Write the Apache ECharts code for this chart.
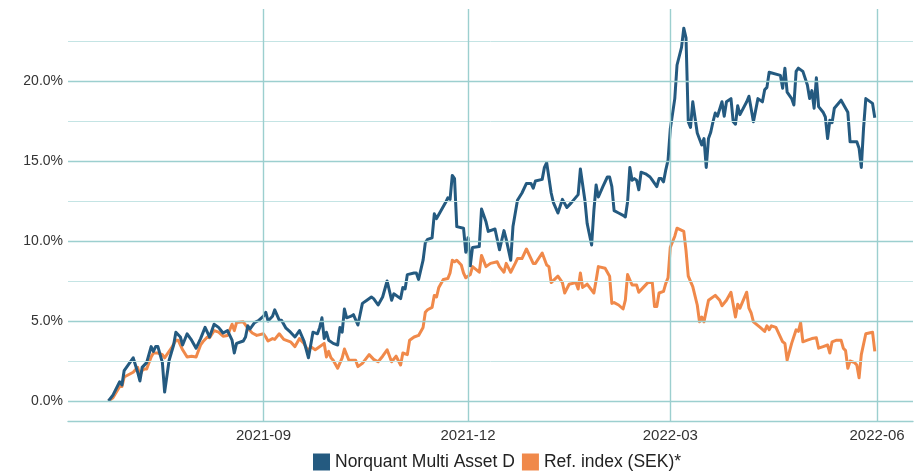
<!DOCTYPE html>
<html>
<head>
<meta charset="utf-8">
<script src="https://cdn.jsdelivr.net/npm/echarts@6/dist/echarts.min.js"></script>
<style>
  html, body { margin: 0; padding: 0; background: #fff; }
  #chart { width: 917px; height: 473px; }
</style>
</head>
<body>
<div id="chart"></div>
<script>
// cumulative return, % since start
var fundDates = ['2021-06-24','2021-06-26','2021-06-29','2021-06-30','2021-07-01','2021-07-05','2021-07-07','2021-07-08','2021-07-09','2021-07-11',
  '2021-07-13','2021-07-14','2021-07-15','2021-07-16','2021-07-18','2021-07-19','2021-07-21','2021-07-23','2021-07-24','2021-07-26',
  '2021-07-27','2021-07-29','2021-07-31','2021-08-02','2021-08-04','2021-08-06','2021-08-08','2021-08-10','2021-08-12','2021-08-14',
  '2021-08-16','2021-08-18','2021-08-19','2021-08-20','2021-08-23','2021-08-24','2021-08-25','2021-08-26','2021-08-28','2021-08-30',
  '2021-09-01','2021-09-02','2021-09-03','2021-09-05','2021-09-06','2021-09-08','2021-09-09','2021-09-11','2021-09-13','2021-09-15',
  '2021-09-17','2021-09-19','2021-09-21','2021-09-22','2021-09-23','2021-09-25','2021-09-26','2021-09-27','2021-09-28','2021-09-29',
  '2021-09-30','2021-10-02','2021-10-04','2021-10-05','2021-10-06','2021-10-07','2021-10-08','2021-10-10','2021-10-11','2021-10-13',
  '2021-10-15','2021-10-17','2021-10-19','2021-10-20','2021-10-22','2021-10-24','2021-10-26','2021-10-28','2021-10-29','2021-11-01',
  '2021-11-02','2021-11-03','2021-11-04','2021-11-07','2021-11-08','2021-11-09','2021-11-11','2021-11-12','2021-11-13','2021-11-15',
  '2021-11-16','2021-11-17','2021-11-19','2021-11-21','2021-11-22','2021-11-23','2021-11-24','2021-11-25','2021-11-26','2021-11-29',
  '2021-11-30','2021-12-01','2021-12-02','2021-12-03','2021-12-06','2021-12-07','2021-12-09','2021-12-10','2021-12-13','2021-12-15',
  '2021-12-17','2021-12-18','2021-12-20','2021-12-21','2021-12-23','2021-12-25','2021-12-27','2021-12-29','2021-12-30','2021-12-31',
  '2022-01-03','2022-01-04','2022-01-05','2022-01-07','2022-01-08','2022-01-10','2022-01-12','2022-01-14','2022-01-16','2022-01-19',
  '2022-01-20','2022-01-22','2022-01-23','2022-01-25','2022-01-26','2022-01-27','2022-01-28','2022-01-30','2022-02-01','2022-02-02',
  '2022-02-03','2022-02-04','2022-02-06','2022-02-08','2022-02-09','2022-02-10','2022-02-11','2022-02-12','2022-02-13','2022-02-14',
  '2022-02-15','2022-02-16','2022-02-18','2022-02-20','2022-02-21','2022-02-23','2022-02-24','2022-02-25','2022-02-26','2022-02-27',
  '2022-02-28','2022-03-01','2022-03-03','2022-03-04','2022-03-06','2022-03-07','2022-03-08','2022-03-09','2022-03-10','2022-03-11',
  '2022-03-12','2022-03-13','2022-03-15','2022-03-16','2022-03-17','2022-03-18','2022-03-19','2022-03-20','2022-03-21','2022-03-22',
  '2022-03-24','2022-03-25','2022-03-26','2022-03-28','2022-03-29','2022-03-30','2022-03-31','2022-04-01','2022-04-04','2022-04-05',
  '2022-04-07','2022-04-09','2022-04-11','2022-04-12','2022-04-13','2022-04-14','2022-04-19','2022-04-20','2022-04-21','2022-04-22',
  '2022-04-24','2022-04-25','2022-04-26','2022-04-27','2022-04-29','2022-05-01','2022-05-02','2022-05-03','2022-05-04','2022-05-05',
  '2022-05-06','2022-05-08','2022-05-09','2022-05-10','2022-05-11','2022-05-12','2022-05-13','2022-05-16','2022-05-19','2022-05-20',
  '2022-05-23','2022-05-24','2022-05-25','2022-05-26','2022-05-27','2022-05-30','2022-05-31'];
var fundValues = [0, 0.37, 1.2, 1.0, 1.9, 2.7, 1.8, 1.25, 2.1, 2.4,
  3.4, 3.1, 3.4, 3.4, 2.4, 0.56, 2.55, 3.5, 4.3, 4.0,
  3.5, 4.2, 3.8, 3.3, 3.9, 4.6, 4.0, 4.8, 4.6, 4.25,
  4.4, 3.8, 3.0, 3.6, 3.75, 4.0, 4.7, 4.5, 4.9, 5.05,
  5.3, 5.55, 5.0, 5.3, 5.7, 5.05, 5.05, 4.55, 4.3, 4.0,
  4.4, 3.75, 2.7, 3.5, 4.3, 4.2, 4.6, 5.2, 3.9, 4.3,
  3.8, 3.6, 3.5, 4.6, 4.3, 5.75, 5.2, 5.3, 5.4, 4.75,
  6.1, 6.3, 6.5, 6.4, 6.0, 6.5, 7.5, 6.3, 6.7, 6.4,
  7.1, 7.0, 7.9, 8.0, 8.0, 7.6, 8.8, 9.9, 10.1, 10.2,
  11.7, 11.4, 11.9, 12.4, 12.7, 12.6, 14.1, 13.9, 10.9, 10.8,
  9.3, 10.2, 8.45, 9.6, 9.65, 12.0, 11.2, 10.6, 10.75, 9.45,
  10.65, 10.1, 8.8, 10.9, 12.55, 13.0, 13.6, 13.6, 13.3, 13.75,
  13.85, 14.6, 14.9, 13.0, 12.4, 11.75, 12.6, 12.1, 12.4, 12.9,
  14.5, 12.55, 11.1, 9.75, 11.9, 13.5, 12.75, 13.4, 14.0, 14.0,
  13.4, 11.9, 11.75, 11.6, 11.5, 12.45, 14.6, 13.8, 13.9, 13.8,
  13.2, 14.3, 14.2, 14.0, 13.8, 13.4, 13.9, 13.9, 13.7, 14.45,
  15.05, 17.0, 18.9, 21.0, 22.1, 23.3, 22.7, 17.45, 17.1, 18.7,
  17.7, 16.75, 16.0, 16.4, 14.6, 16.4, 16.8, 17.45, 18.0, 17.8,
  18.7, 17.8, 18.7, 18.9, 17.45, 17.3, 18.45, 17.9, 18.7, 19.05,
  17.45, 18.9, 18.7, 19.45, 19.6, 20.55, 20.35, 19.55, 20.8, 19.3,
  18.9, 18.5, 20.6, 20.8, 20.6, 19.75, 18.9, 19.4, 18.3, 20.2,
  18.4, 18.05, 17.75, 16.4, 17.55, 17.4, 18.3, 18.8, 18.05, 16.2,
  16.2, 15.8, 14.6, 17.05, 18.9, 18.6, 17.7];

var refDates = ['2021-06-24','2021-06-26','2021-06-29','2021-06-30','2021-07-01','2021-07-05','2021-07-07','2021-07-08','2021-07-09','2021-07-10',
  '2021-07-11','2021-07-13','2021-07-14','2021-07-16','2021-07-18','2021-07-19','2021-07-22','2021-07-24','2021-07-25','2021-07-27',
  '2021-07-29','2021-07-31','2021-08-02','2021-08-04','2021-08-05','2021-08-07','2021-08-08','2021-08-10','2021-08-12','2021-08-14',
  '2021-08-16','2021-08-18','2021-08-19','2021-08-20','2021-08-23','2021-08-25','2021-08-27','2021-08-29','2021-09-01','2021-09-02',
  '2021-09-03','2021-09-05','2021-09-06','2021-09-08','2021-09-10','2021-09-13','2021-09-15','2021-09-17','2021-09-19','2021-09-21',
  '2021-09-22','2021-09-24','2021-09-25','2021-09-28','2021-09-29','2021-09-30','2021-10-01','2021-10-02','2021-10-04','2021-10-06',
  '2021-10-07','2021-10-09','2021-10-12','2021-10-13','2021-10-15','2021-10-18','2021-10-20','2021-10-22','2021-10-24','2021-10-26',
  '2021-10-28','2021-10-30','2021-11-01','2021-11-02','2021-11-04','2021-11-05','2021-11-07','2021-11-09','2021-11-11','2021-11-12',
  '2021-11-13','2021-11-15','2021-11-16','2021-11-17','2021-11-18','2021-11-20','2021-11-22','2021-11-23','2021-11-24','2021-11-25',
  '2021-11-26','2021-11-28','2021-11-29','2021-11-30','2021-12-02','2021-12-03','2021-12-06','2021-12-07','2021-12-09','2021-12-11',
  '2021-12-14','2021-12-15','2021-12-17','2021-12-18','2021-12-20','2021-12-22','2021-12-23','2021-12-25','2021-12-27','2021-12-30',
  '2021-12-31','2022-01-03','2022-01-05','2022-01-06','2022-01-07','2022-01-10','2022-01-12','2022-01-13','2022-01-15','2022-01-18',
  '2022-01-19','2022-01-20','2022-01-21','2022-01-23','2022-01-26','2022-01-27','2022-01-28','2022-01-31','2022-02-02','2022-02-03',
  '2022-02-04','2022-02-06','2022-02-08','2022-02-09','2022-02-10','2022-02-12','2022-02-14','2022-02-15','2022-02-17','2022-02-19',
  '2022-02-21','2022-02-22','2022-02-23','2022-02-24','2022-02-26','2022-02-27','2022-02-28','2022-03-01','2022-03-03','2022-03-04',
  '2022-03-07','2022-03-08','2022-03-09','2022-03-11','2022-03-13','2022-03-14','2022-03-15','2022-03-16','2022-03-18','2022-03-21',
  '2022-03-23','2022-03-24','2022-03-26','2022-03-28','2022-03-30','2022-03-31','2022-04-01','2022-04-04','2022-04-05','2022-04-06',
  '2022-04-07','2022-04-10','2022-04-12','2022-04-13','2022-04-14','2022-04-15','2022-04-17','2022-04-20','2022-04-21','2022-04-22',
  '2022-04-24','2022-04-26','2022-04-27','2022-04-28','2022-04-29','2022-05-01','2022-05-03','2022-05-05','2022-05-06','2022-05-08',
  '2022-05-10','2022-05-11','2022-05-12','2022-05-14','2022-05-16','2022-05-17','2022-05-18','2022-05-19','2022-05-20','2022-05-22',
  '2022-05-23','2022-05-24','2022-05-25','2022-05-27','2022-05-30','2022-05-31'];
var refValues = [0, 0.2, 0.9, 0.9, 1.5, 1.8, 2.1, 1.6, 1.9, 2.0,
  2.0, 2.75, 3.0, 3.0, 2.9, 2.7, 3.3, 3.8, 3.8, 3.2,
  2.75, 2.8, 2.75, 3.5, 3.7, 4.0, 3.95, 4.4, 4.3, 4.05,
  4.1, 4.8, 4.4, 4.9, 4.95, 4.55, 4.25, 4.1, 4.2, 4.0,
  3.75, 3.9, 3.85, 4.2, 3.85, 3.7, 3.4, 3.9, 3.6, 3.1,
  3.4, 3.2, 3.3, 3.6, 2.75, 3.1, 2.7, 2.55, 2.05, 2.7,
  3.25, 2.55, 2.55, 2.15, 2.35, 2.9, 2.6, 2.45, 2.8, 3.2,
  2.45, 2.8, 2.25, 3.0, 2.9, 3.8, 4.0, 4.1, 4.6, 5.55,
  5.7, 5.85, 6.6, 6.5, 7.1, 7.6, 7.65, 8.0, 8.8, 8.7,
  8.8, 8.5, 8.0, 7.7, 7.9, 8.4, 8.05, 9.1, 8.4, 8.6,
  8.7, 8.4, 8.05, 8.6, 8.05, 8.6, 8.9, 8.9, 9.5, 8.6,
  8.6, 9.25, 8.5, 8.4, 7.4, 7.8, 7.4, 6.75, 7.3, 7.4,
  7.0, 8.0, 7.1, 7.3, 6.75, 7.55, 8.4, 8.3, 7.8, 6.1,
  6.15, 6.0, 5.75, 6.3, 7.9, 7.25, 7.25, 6.8, 7.1, 7.4,
  7.4, 5.9, 5.9, 6.75, 6.85, 7.35, 7.7, 9.6, 10.3, 10.8,
  10.6, 9.4, 7.8, 7.15, 6.0, 4.95, 5.25, 4.95, 6.3, 6.6,
  6.3, 5.95, 6.3, 6.8, 5.25, 6.05, 5.8, 6.8, 5.8, 5.5,
  4.95, 4.6, 4.35, 4.7, 4.45, 4.7, 4.6, 3.7, 3.6, 2.55,
  3.6, 4.45, 4.35, 4.9, 3.7, 3.8, 3.9, 3.95, 3.3, 3.4,
  3.5, 3.0, 3.7, 3.8, 3.8, 3.3, 3.15, 2.05, 2.5, 2.4,
  2.25, 1.45, 2.9, 4.2, 4.3, 3.1];

var yTicks = [0, 5, 10, 15, 20];
var yMinorTicks = [2.5, 7.5, 12.5, 17.5, 22.5];
var xTicks = ['2021-09-01', '2021-12-01', '2022-03-01', '2022-06-01'];

var blue = '#245a80';
var orange = '#f0894a';
var gridMajor = '#9ccfcf';
var gridMinor = '#c4e4e4';

function ts(s) {
  var p = s.split('-');
  return Date.UTC(+p[0], +p[1] - 1, +p[2]);
}
function pairs(dates, vals) {
  return dates.map(function(d, i) { return [ts(d), vals[i]]; });
}
function pad(n) { return n < 10 ? '0' + n : '' + n; }

var gridLines = [];
yMinorTicks.forEach(function(v) {
  gridLines.push({ yAxis: v, lineStyle: { color: gridMinor, width: 1, type: 'solid' } });
});
yTicks.forEach(function(v) {
  gridLines.push({ yAxis: v, lineStyle: { color: gridMajor, width: 1.4, type: 'solid' } });
});
xTicks.forEach(function(d) {
  gridLines.push({ xAxis: ts(d), lineStyle: { color: gridMajor, width: 1.4, type: 'solid' } });
});

var chart = echarts.init(document.getElementById('chart'), null, { renderer: 'canvas' });
chart.setOption({
  animation: false,
  textStyle: { fontFamily: 'Liberation Sans, Arial, sans-serif' },
  legend: {
    data: ['Norquant Multi Asset D', 'Ref. index (SEK)*'],
    bottom: -3,
    left: 308,
    icon: 'rect',
    itemWidth: 17,
    itemHeight: 17,
    itemGap: 7,
    textStyle: { color: '#222', fontSize: 17.5, fontFamily: 'Liberation Sans, Arial, sans-serif' }
  },
  grid: { left: 68, right: 4, top: 9, bottom: 52, containLabel: false },
  xAxis: {
    type: 'value',
    min: ts('2021-06-06'),
    max: ts('2022-06-17'),
    axisLine: { show: true, onZero: false, lineStyle: { color: gridMajor, width: 1.4 } },
    axisTick: { show: false },
    splitLine: { show: false },
    axisLabel: {
      customValues: xTicks.map(ts),
      color: '#333',
      fontSize: 15,
      margin: 7,
      formatter: function(v) {
        var d = new Date(v);
        return d.getUTCFullYear() + '-' + pad(d.getUTCMonth() + 1);
      }
    }
  },
  yAxis: {
    type: 'value',
    min: -1.25,
    max: 24.5,
    axisLine: { show: false },
    axisTick: { show: false },
    splitLine: { show: false },
    axisLabel: {
      customValues: yTicks,
      color: '#333',
      fontSize: 14,
      margin: 5,
      formatter: function(v) { return v.toFixed(1) + '%'; }
    }
  },
  series: [
    {
      name: 'grid',
      type: 'line',
      data: [],
      z: 1,
      silent: true,
      markLine: {
        silent: true,
        symbol: 'none',
        label: { show: false },
        animation: false,
        data: gridLines
      }
    },
    {
      name: 'Norquant Multi Asset D',
      type: 'line',
      z: 3,
      data: pairs(fundDates, fundValues),
      showSymbol: false,
      lineStyle: { color: blue, width: 3, join: 'round' },
      itemStyle: { color: blue }
    },
    {
      name: 'Ref. index (SEK)*',
      type: 'line',
      z: 2,
      data: pairs(refDates, refValues),
      showSymbol: false,
      lineStyle: { color: orange, width: 3, join: 'round' },
      itemStyle: { color: orange }
    }
  ]
});
window.addEventListener('resize', function() { chart.resize(); });
</script>
</body>
</html>
